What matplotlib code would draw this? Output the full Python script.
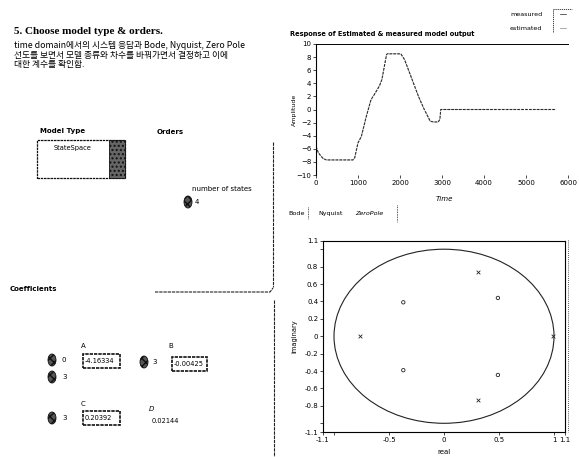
import matplotlib
matplotlib.use('Agg')
import matplotlib.pyplot as plt
from matplotlib.lines import Line2D
from matplotlib.patches import Circle, Ellipse, Rectangle

plt.rcParams['font.family'] = ['DejaVu Sans']

# time domain response
time_pts = [0, 55, 170, 250, 880, 920, 1000, 1080, 1200, 1310, 1390, 1510,
            1570, 1680, 1700, 2020, 2110, 2440, 2560, 2720, 2800, 2910, 2950,
            2970, 3000, 5710]
measured = [-5.6, -6.6, -7.5, -7.7, -7.7, -7.4, -5.1, -4.1, -1.0, 1.5, 2.3, 3.6,
            4.6, 8.4, 8.5, 8.5, 7.6, 2.0, 0.25, -1.8, -1.9, -1.9, -1.5,
            0.0, 0.0, 0.0]
estimated = list(measured)  # both curves coincide on the screenshot

# zero / pole map
pole_re = [0.31, 0.31, -0.76, 0.99]
pole_im = [0.735, -0.735, 0.0, 0.0]
zero_re = [-0.37, -0.37, 0.49, 0.49]
zero_im = [0.39, -0.39, 0.44, -0.445]

time_ticks = [0, 1000, 2000, 3000, 4000, 5000, 6000]
amp_ticks = [10, 8, 6, 4, 2, 0, -2, -4, -6, -8, -10]
re_ticks = [-1.1, -1, -0.5, 0, 0.5, 1, 1.1]
re_labels = ['-1.1', '', '-0.5', '0', '0.5', '1', '1.1']
im_ticks = [1.1, 1, 0.8, 0.6, 0.4, 0.2, 0, -0.2, -0.4, -0.6, -0.8, -1, -1.1]
im_labels = ['1.1', '', '0.8', '0.6', '0.4', '0.2', '0', '-0.2', '-0.4',
             '-0.6', '-0.8', '', '-1.1']

coef_A = '-4.16334'
coef_B = '-0.00425'
coef_C = '0.20392'
coef_D = '0.02144'

W, H = 579, 457
fig = plt.figure(figsize=(W / 100, H / 100), dpi=100)
fig.patch.set_facecolor('white')


def fx(x):
    return x / W


def fy(y):
    return 1 - y / H


def label(x, y, s, **kw):
    kw.setdefault('fontsize', 5)
    kw.setdefault('va', 'center')
    kw.setdefault('ha', 'left')
    fig.text(fx(x), fy(y), s, **kw)


def fline(xs, ys, **kw):
    kw.setdefault('color', '#222222')
    kw.setdefault('lw', 0.8)
    fig.add_artist(Line2D([fx(v) for v in xs], [fy(v) for v in ys],
                          transform=fig.transFigure, **kw))


def spinner(x, y):
    fig.add_artist(Ellipse((fx(x), fy(y)), 8 / W, 12 / H, transform=fig.transFigure,
                           facecolor='#555555', edgecolor='#111111', lw=0.6,
                           hatch='xxxx'))


def numbox(x0, y0, x1, y1, s):
    fig.add_artist(Rectangle((fx(x0), fy(y1)), (x1 - x0) / W, (y1 - y0) / H,
                             transform=fig.transFigure, facecolor='white',
                             edgecolor='#111111', lw=1.2, ls=(0, (2, 0.6))))
    label(x0 + 2, (y0 + y1) / 2, s, fontsize=4.8)


kr = ['Noto Sans CJK KR', 'DejaVu Sans']

# ---- left panel ----
label(14, 32, '5. Choose model type & orders.', fontsize=8,
      family='Liberation Serif', weight='bold')
label(14, 46, 'time domain에서의 시스템 응답과 Bode, Nyquist, Zero Pole', fontsize=6.3, family=kr)
label(14, 55.5, '선도를 보면서 모델 종류와 차수를 바꿔가면서 결정하고 이에', fontsize=6.3, family=kr)
label(14, 65, '대한 계수를 확인함.', fontsize=6.3, family=kr)

label(40, 131, 'Model Type', fontsize=5, weight='bold')
fig.add_artist(Rectangle((fx(37), fy(178)), 88 / W, 38 / H, transform=fig.transFigure,
                         facecolor='white', edgecolor='#111111', lw=0.9, ls=(0, (2, 0.6))))
fig.add_artist(Rectangle((fx(109), fy(178)), 16 / W, 38 / H, transform=fig.transFigure,
                         facecolor='#666666', edgecolor='#111111', lw=0.6, hatch='....'))
label(73, 148, 'StateSpace', fontsize=4.8, ha='center')

label(157, 132, 'Orders', fontsize=5, weight='bold')
label(192, 189, 'number of states', fontsize=5)
spinner(188, 202)
label(195, 202, '4', fontsize=5)

label(10, 289, 'Coefficients', fontsize=5, weight='bold')
fline([273, 273], [142, 287], ls=(0, (3, 0.8)))
fline([155, 270, 273], [292, 292, 288], ls=(0, (3, 0.8)))
fline([274, 274], [300, 457], ls=(0, (3, 0.8)))

spinner(52, 360)
label(62, 360, '0', fontsize=5)
spinner(52, 377)
label(62, 377, '3', fontsize=5)
label(81, 346, 'A', fontsize=5)
numbox(83, 354, 120, 368, coef_A)

spinner(144, 362)
label(152, 362, '3', fontsize=5)
label(168, 346, 'B', fontsize=5)
numbox(172, 357, 207, 371, coef_B)

spinner(52, 418)
label(62, 418, '3', fontsize=5)
label(81, 404, 'C', fontsize=5)
numbox(83, 411, 120, 425, coef_C)

label(149, 409, 'D', fontsize=5, style='italic')
label(152, 421, coef_D, fontsize=4.8)

# ---- time response ----
ax1 = fig.add_axes([fx(316), fy(175), (568 - 316) / W, (175 - 44) / H])
ax1.plot(time_pts, measured, color='#222222', lw=0.8, ls=(0, (2.5, 1)))
ax1.plot(time_pts, estimated, color='#555555', lw=0.5, ls=(0, (1, 2)))
ax1.set_xlim(0, 6000)
ax1.set_ylim(-10, 10)
ax1.set_xticks(time_ticks)
ax1.set_yticks(amp_ticks)
ax1.tick_params(labelsize=5, length=2, width=0.5, pad=1.5)
for s in ['right', 'bottom']:
    ax1.spines[s].set_visible(False)
ax1.spines['top'].set_linestyle((0, (2, 1)))
ax1.spines['top'].set_linewidth(0.7)
ax1.spines['left'].set_linewidth(0.8)
ax1.set_ylabel('Amplitude', fontsize=4.5)
ax1.yaxis.set_label_coords(-0.077, 0.5)
ax1.set_xlabel('Time', fontsize=5, style='italic')
ax1.xaxis.set_label_coords(0.51, -0.16)

label(290, 34, 'Response of Estimated & measured model output', fontsize=4.8, weight='bold')
label(510, 15, 'measured', fontsize=4.6)
label(510, 28, 'estimated', fontsize=4.6)
fline([553, 553, 572], [32, 9, 9], lw=0.6, ls=(0, (1.5, 1)))
fline([560, 566], [14, 14], lw=0.5)
fline([560, 566], [28, 28], lw=0.5, color='#888888')

# tabs
label(288, 213, 'Bode', fontsize=4.6)
fline([308, 308], [207, 219], lw=0.6, ls=(0, (1, 1)))
label(318, 213, 'Nyquist', fontsize=4.6)
label(355, 213, 'ZeroPole', fontsize=4.6, style='italic')
fline([397, 397], [205, 222], lw=0.6, ls=(0, (1, 1)))
fline([568, 568], [240, 432], lw=0.6, ls=(0, (1, 1.5)))

# ---- zero / pole plot ----
ax2 = fig.add_axes([fx(323), fy(432), (565 - 323) / W, (432 - 240.5) / H])
ax2.add_patch(Circle((0, 0), 1, fill=False, edgecolor='#222222', lw=0.8))
ax2.scatter(pole_re, pole_im, marker='x', s=7, color='#222222', lw=0.6)
ax2.scatter(zero_re, zero_im, marker='o', s=6, facecolors='none',
            edgecolors='#222222', lw=0.6)
ax2.set_xlim(-1.1, 1.1)
ax2.set_ylim(-1.1, 1.1)
ax2.set_xticks(re_ticks)
ax2.set_xticklabels(re_labels)
ax2.set_yticks(im_ticks)
ax2.set_yticklabels(im_labels)
ax2.tick_params(labelsize=5, length=2, width=0.5, pad=1.5)
for s in ax2.spines.values():
    s.set_linewidth(0.8)
    s.set_linestyle((0, (2, 0.7)))
ax2.set_ylabel('imaginary', fontsize=4.8)
ax2.yaxis.set_label_coords(-0.105, 0.5)
ax2.set_xlabel('real', fontsize=5)
ax2.xaxis.set_label_coords(0.5, -0.09)

fig.savefig('out.png', dpi=100)
